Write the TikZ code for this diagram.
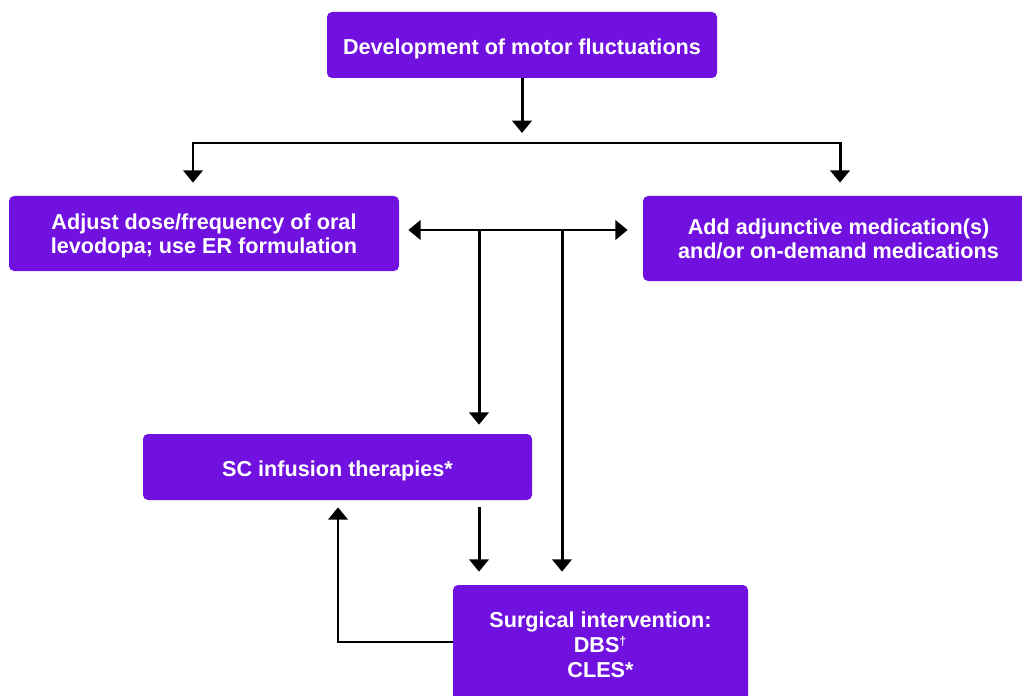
\documentclass[tikz,border=0pt]{standalone}
\usepackage{fontspec}
\setmainfont{Liberation Sans}
\usetikzlibrary{arrows.meta}

\definecolor{boxpurple}{RGB}{113,17,224}

% text of a box, set a little lower than the centre
\newcommand{\boxtext}[2][0.09cm]{\raisebox{-#1}[\height][\depth]{\begin{tabular}{@{}c@{}}#2\end{tabular}}}

\tikzset{
  box/.style={fill=boxpurple, rounded corners=0.1cm, text=white, align=center,
    font=\fontsize{12.3}{14.2}\selectfont\bfseries, inner sep=0pt},
  arr/.style={line width=1.7pt, -{Triangle[width=11pt,length=7pt]}},
  arrboth/.style={line width=1.7pt, {Triangle[width=11pt,length=7pt]}-{Triangle[width=11pt,length=7pt]}}
}

\begin{document}
\begin{tikzpicture}
        \useasboundingbox (0,0) rectangle (20.44,-13.92);

        % Boxes
        \node[box, minimum width=7.8cm, minimum height=1.32cm] (top) at (10.44,-0.9) {\boxtext{Development of motor fluctuations}};
        \node[box, minimum width=7.8cm, minimum height=1.5cm] (left) at (4.08,-4.67) {\boxtext[0.06cm]{Adjust dose/frequency of oral\\levodopa; use ER formulation}};
        \node[box, minimum width=7.82cm, minimum height=1.7cm] (right) at (16.77,-4.77) {\boxtext[0.06cm]{Add adjunctive medication(s)\\and/or on-demand medications}};
        \node[box, minimum width=7.78cm, minimum height=1.32cm] (sc) at (6.75,-9.34) {\boxtext{SC infusion therapies*}};
        \node[box, minimum width=5.9cm, minimum height=2.4cm] (surg) at (12.01,-12.9) {Surgical intervention:\\DBS\textsuperscript{\scriptsize†}\\CLES*};

        % Junction points
        \coordinate (split) at (10.44,-2.86);
        \coordinate (jA) at (9.58,-4.6);
        \coordinate (jB) at (11.24,-4.6);
        \coordinate (fb) at (6.76,-12.84);

        % Connectors
        \draw[arr, shorten >=0.2cm] (top) -- (split);
        \draw[arr, shorten >=0.26cm] (split) -| ([xshift=-0.22cm]left.north);
        \draw[arr, shorten >=0.26cm] (split) -| ([xshift=0.03cm]right.north);
        \draw[arrboth, shorten <=0.18cm, shorten >=0.3cm] (left.east |- jA) -- (right.west |- jA);
        \draw[arr, shorten >=0.18cm] (jA) -- (jA |- sc.north);
        \draw[arr, shorten >=0.26cm] (jB) -- (jB |- surg.north);
        \draw[arr, shorten <=0.14cm, shorten >=0.26cm] (jA |- sc.south) -- (jA |- surg.north);
        \draw[arr, shorten >=0.14cm] (surg.west |- fb) -| (fb |- sc.south);
\end{tikzpicture}
\end{document}
